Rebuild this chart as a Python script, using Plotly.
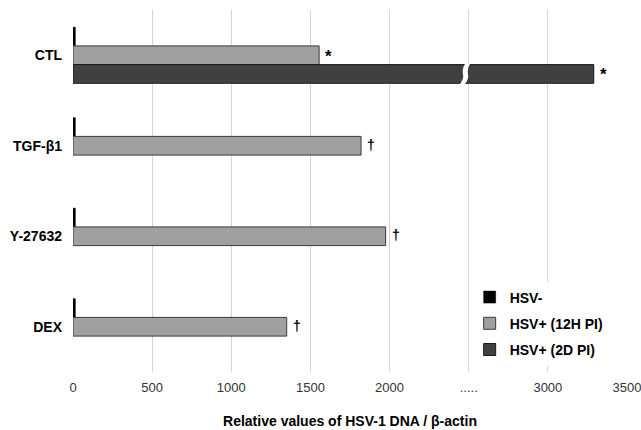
import plotly.graph_objects as go

# ---- data ----
categories = ["CTL", "TGF-β1", "Y-27632", "DEX"]
hsv_neg = [15, 15, 15, 15]
hsv_pos_12h = [1555, 1820, 1975, 1350]
hsv_pos_2d = [3290, None, None, None]
sig_12h = ["*", "†", "†", "†"]
sig_2d = ["*", "", "", ""]
tick_vals = [0, 500, 1000, 1500, 2000, 2500, 3000, 3500]
tick_text = ["0", "500", "1000", "1500", "2000", ".....", "3000", "3500"]
axis_break_at = 2500

FONT = "Arial, Liberation Sans, sans-serif"
BARGAP = 0.38

fig = go.Figure()
fig.add_trace(go.Bar(
    y=categories, x=hsv_neg, orientation="h", name="HSV-",
    marker=dict(color="#000000", line=dict(color="#000000", width=0.5)),
    legendgroup="a",
))
fig.add_trace(go.Bar(
    y=categories, x=hsv_pos_12h, orientation="h", name="HSV+ (12H PI)",
    marker=dict(color="#a0a0a0", line=dict(color="#3a3a3a", width=1)),
    legendgroup="b",
))
fig.add_trace(go.Bar(
    y=categories, x=hsv_pos_2d, orientation="h", name="HSV+ (2D PI)",
    marker=dict(color="#404040", line=dict(color="#1a1a1a", width=1)),
    legendgroup="c",
))

# significance marks
bar_w = (1 - BARGAP) / 3
def sig_font(s):
    return dict(family=FONT, size=17 if s == "*" else 14, color="#000", weight="bold")

for cat, v, s in zip(categories, hsv_pos_12h, sig_12h):
    if s:
        fig.add_annotation(x=v, y=cat, text=s, showarrow=False, xanchor="left",
                           xshift=4, yshift=1 if s == "†" else -1, font=sig_font(s))
for cat, v, s in zip(categories, hsv_pos_2d, sig_2d):
    if s and v is not None:
        fig.add_annotation(x=v, y=categories.index(cat) + bar_w, text=s,
                           showarrow=False, xanchor="left", xshift=4, yshift=-1,
                           font=sig_font(s))

# axis-break mark inside the long bar
fig.add_shape(
    type="path", xref="x", yref="y",
    xsizemode="pixel", ysizemode="pixel",
    xanchor=axis_break_at - 30, yanchor=bar_w,
    path="M 1,10 L 6,10 Q 3,5 4,0 Q 5,-5 1,-10 L -4,-10 Q 0,-5 -1,0 Q -2,5 1,10 Z",
    fillcolor="white", line=dict(width=0), layer="above",
)

fig.update_layout(
    barmode="group", bargap=BARGAP, bargroupgap=0,
    width=641, height=430,
    margin=dict(l=73, r=14, t=10, b=58),
    paper_bgcolor="white", plot_bgcolor="white",
    font=dict(family=FONT, size=12, color="#000"),
    showlegend=True,
    legend=dict(
        x=0.716, y=0.25, xanchor="left", yanchor="top",
        bgcolor="white", tracegroupgap=5, traceorder="grouped",
        font=dict(family=FONT, size=14, color="#000", weight="bold"),
        itemwidth=30,
    ),
)
fig.update_xaxes(
    range=[0, 3500], tickvals=tick_vals, ticktext=tick_text, automargin=False,
    ticklabeloverflow="allow",
    showgrid=True, gridcolor="#d4d4d4", gridwidth=1, zeroline=False,
    showline=False, ticks="", ticklabelstandoff=6,
    tickfont=dict(family=FONT, size=13, color="#333"),
    title=dict(text="Relative values of HSV-1 DNA / β-actin", standoff=22,
               font=dict(family=FONT, size=14, color="#000", weight="bold")),
)
fig.update_yaxes(
    autorange="reversed", showgrid=False, zeroline=False, showline=False,
    ticks="", ticklabelstandoff=10, automargin=False,
    tickfont=dict(family=FONT, size=14, color="#000", weight="bold"),
)

fig.write_html("out.html")
